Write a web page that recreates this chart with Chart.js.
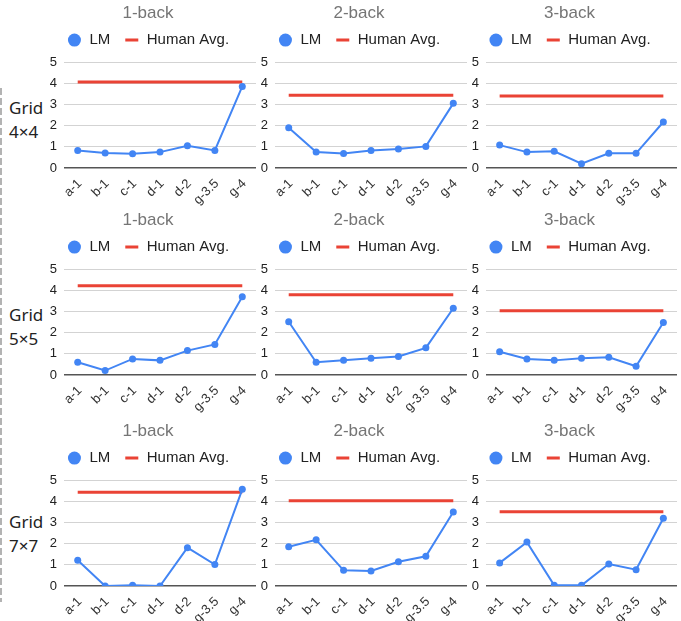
<!DOCTYPE html>
<html>
<head>
<meta charset="utf-8">
<script src="https://cdn.jsdelivr.net/npm/chart.js@4/dist/chart.umd.min.js"></script>
<style>
  html, body { margin: 0; padding: 0; background: #fff; overflow: hidden; width: 681px; height: 621px; }
  #wrap { position: relative; width: 681px; height: 621px; overflow: hidden; }
  canvas { position: absolute; }
  .rowlabel { position: absolute; left: 9px; font-family: "Noto Sans", "Open Sans", sans-serif; font-size: 17px; line-height: 24px; color: #222; }
  .divider { position: absolute; left: 0; top: 88px; width: 2px; height: 514px;
             background: repeating-linear-gradient(to bottom, #b3b3b3 0 7px, transparent 7px 10px); }
</style>
</head>
<body>
<div id="wrap"><div class="divider"></div></div>
<script>
// Task variants along the x axis
const categories = ['a-1', 'b-1', 'c-1', 'd-1', 'd-2', 'g-3.5', 'g-4'];
const nBackTitles = ['1-back', '2-back', '3-back'];
const gridSizes = ['4×4', '5×5', '7×7'];
const yTicks = [0, 1, 2, 3, 4, 5];

// LM scores, grid 4×4
const lm4x4_1back = [0.82, 0.71, 0.67, 0.75, 1.05, 0.83, 3.85];
const lm4x4_2back = [1.90, 0.75, 0.68, 0.83, 0.90, 1.02, 3.05];
const lm4x4_3back = [1.08, 0.75, 0.79, 0.20, 0.69, 0.69, 2.17];
// LM scores, grid 5×5
const lm5x5_1back = [0.60, 0.21, 0.76, 0.69, 1.15, 1.44, 3.69];
const lm5x5_2back = [2.51, 0.60, 0.69, 0.79, 0.87, 1.28, 3.15];
const lm5x5_3back = [1.10, 0.76, 0.69, 0.79, 0.84, 0.41, 2.48];
// LM scores, grid 7×7
const lm7x7_1back = [1.21, 0.00, 0.03, 0.00, 1.81, 1.01, 4.56];
const lm7x7_2back = [1.85, 2.18, 0.74, 0.71, 1.14, 1.40, 3.49];
const lm7x7_3back = [1.09, 2.07, 0.03, 0.03, 1.04, 0.77, 3.20];

// Human average per n-back level (1, 2, 3) for each grid
const human4x4 = [4.06, 3.43, 3.40];
const human5x5 = [4.21, 3.79, 3.03];
const human7x7 = [4.42, 4.02, 3.50];

const lmRows = [
  [lm4x4_1back, lm4x4_2back, lm4x4_3back],
  [lm5x5_1back, lm5x5_2back, lm5x5_3back],
  [lm7x7_1back, lm7x7_2back, lm7x7_3back]
];
const humanRows = [human4x4, human5x5, human7x7];

const BLUE = '#4285F4';
const RED = '#EA4335';
const FONT = '"Liberation Sans", Arial, sans-serif';

const rowTops = [0, 207, 418];
const rowLabelTops = [96, 303, 510];
const colLefts = [40, 251, 462];
const colWidths = [223, 223, 222];
const RIGHT_PAD = 7;
const PANEL_H = 207;

const wrap = document.getElementById('wrap');

function makeChart(canvas, title, lm, human) {
  return new Chart(canvas, {
    type: 'line',
    data: {
      labels: categories,
      datasets: [
        {
          label: 'LM',
          data: lm,
          borderColor: BLUE,
          backgroundColor: BLUE,
          borderWidth: 2,
          pointRadius: 3.5,
          pointBorderWidth: 0,
          pointStyle: 'circle',
          tension: 0
        },
        {
          label: 'Human Avg.',
          data: categories.map(() => human),
          borderColor: RED,
          backgroundColor: RED,
          borderWidth: 3,
          borderCapStyle: 'butt',
          pointRadius: 0,
          pointBorderWidth: 3,
          pointStyle: 'line'
        }
      ]
    },
    options: {
      responsive: false,
      animation: false,
      events: [],
      layout: { padding: { right: RIGHT_PAD } },
      plugins: {
        title: {
          display: true, text: title, color: '#757575',
          font: { family: FONT, size: 17, weight: 'normal', lineHeight: 0.6 },
          padding: { top: 8.4, bottom: 0 }
        },
        subtitle: {
          display: true, text: '', weight: 500,
          font: { size: 1, lineHeight: 1 },
          padding: { top: 3.4, bottom: 0 }
        },
        legend: {
          display: true,
          labels: {
            usePointStyle: true, boxWidth: 15, boxHeight: 9.2, padding: 14,
            color: '#222', font: { family: FONT, size: 15 }
          }
        },
        tooltip: { enabled: false }
      },
      scales: {
        x: {
          offset: true,
          grid: { display: false, drawTicks: false },
          border: { display: false },
          ticks: {
            autoSkip: false, minRotation: 45, maxRotation: 45, padding: 8, labelOffset: 2,
            color: '#333', font: { family: FONT, size: 13 }
          },
          afterFit: s => { s.height = 39; }
        },
        y: {
          min: 0, max: 5,
          afterBuildTicks: s => { s.ticks = yTicks.map(v => ({ value: v })); },
          grid: {
            drawTicks: false,
            color: c => (c.tick && c.tick.value === 0) ? '#555' : '#d3d3d3',
            lineWidth: c => (c.tick && c.tick.value === 0) ? 1.5 : 1
          },
          border: { display: false },
          ticks: { padding: 7, color: '#222', font: { family: FONT, size: 13 } },
          afterFit: s => { s.width = 24; }
        }
      }
    }
  });
}

gridSizes.forEach((g, r) => {
  const lab = document.createElement('div');
  lab.className = 'rowlabel';
  lab.style.top = rowLabelTops[r] + 'px';
  lab.innerHTML = 'Grid<br>' + g;
  wrap.appendChild(lab);

  nBackTitles.forEach((t, c) => {
    const cv = document.createElement('canvas');
    cv.width = colWidths[c];
    cv.height = PANEL_H;
    cv.style.left = colLefts[c] + 'px';
    cv.style.top = rowTops[r] + 'px';
    wrap.appendChild(cv);
    makeChart(cv, t, lmRows[r][c], humanRows[r][c]);
  });
});
</script>
</body>
</html>
